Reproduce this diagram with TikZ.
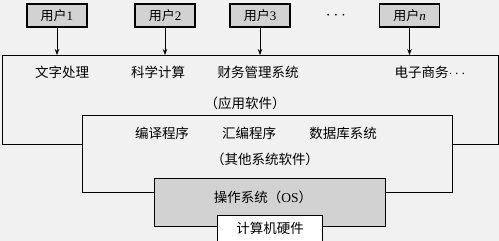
\documentclass[tikz,border=0pt]{standalone}
\usepackage{fontspec}
\setmainfont{Liberation Serif}
\newfontfamily\cjk{Noto Sans CJK SC}
\usetikzlibrary{arrows.meta}
\definecolor{bgc}{HTML}{F1F1F1}
\definecolor{boxgray}{HTML}{D2D2D2}
\begin{document}
\begin{tikzpicture}[x=1pt,y=-1pt,
  frame/.style={draw=black,line width=1.4pt,fill=bgc,inner sep=0pt,anchor=north west},
  userbox/.style={draw=black,line width=1.4pt,fill=boxgray,minimum width=60pt,minimum height=23pt,inner sep=0pt,font=\fontsize{13}{13}\selectfont},
  lbl/.style={font=\fontsize{13.5}{13.5}\selectfont\cjk,inner sep=0pt},
  arr/.style={-{Stealth[length=6pt,width=4.5pt]},line width=0.8pt}]
\fill[bgc] (0,0) rectangle (499,241);
\useasboundingbox (0,0) rectangle (499,241);
% layered boxes
\node[frame,minimum width=496pt,minimum height=89pt] (app) at (2,55) {};
\node[frame,minimum width=370pt,minimum height=77pt] (sys) at (82,115) {};
\node[frame,fill=boxgray,minimum width=231pt,minimum height=48pt] (os) at (154,178) {};
\node[frame,fill=white,minimum width=105pt,minimum height=35pt] (hw) at (217,215) {};
% users
\node[userbox] (u1) at (57,15.5) {{\cjk 用户}1};
\node[userbox] (u2) at (165,15.5) {{\cjk 用户}2};
\node[userbox] (u3) at (260,15.5) {{\cjk 用户}3};
\node[font=\fontsize{17}{17}\selectfont] (dots) at (336,16) {$\cdots$};
\node[userbox] (un) at (409.5,15.5) {{\cjk 用户}\textit{n}};
\foreach \u in {u1,u2,u3,un} \draw[arr] (\u.south) -- (\u.south |- app.north);
% application texts
\node[lbl] (t1) at (62,72) {文字处理};
\node[lbl] (t2) at (158,72) {科学计算};
\node[lbl] (t3) at (258,72) {财务管理系统};
\node[lbl] (t4) at (430,72) {电子商务{\rmfamily$\cdots$}};
\node[lbl] (t5) at (245,103) {（应用软件）};
% system software texts
\node[lbl] (s1) at (162,133) {编译程序};
\node[lbl] (s2) at (249,133) {汇编程序};
\node[lbl] (s3) at (343,133) {数据库系统};
\node[lbl] (s4) at (265,159) {（其他系统软件）};
% os and hardware
\node[lbl] (o1) at (263,197) {操作系统（{\rmfamily OS}）};
\node[lbl] (h1) at (270,228) {计算机硬件};
\end{tikzpicture}
\end{document}
